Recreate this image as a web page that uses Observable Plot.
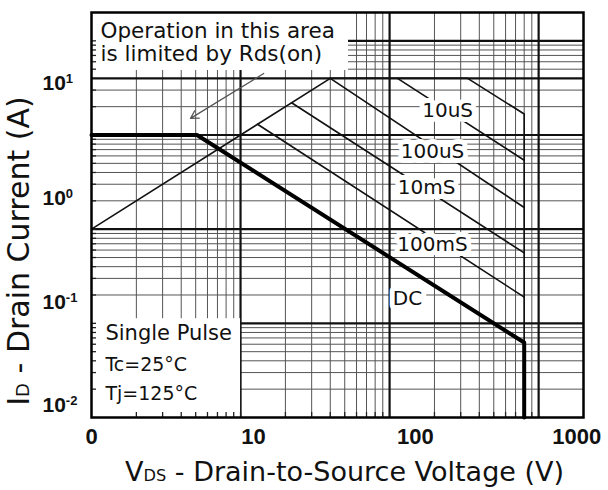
<!DOCTYPE html>
<html><head><meta charset="utf-8">
<script src="https://cdn.jsdelivr.net/npm/d3@7"></script>
<script src="https://cdn.jsdelivr.net/npm/@observablehq/plot@0.6"></script>
<style>html,body{margin:0;padding:0;background:#fff;}</style>
</head><body><div id="chart"></div>
<script>
// ---- grid values (log grid of the original sheet) ----
const xMajor = [10, 100, 1000];
const xMinor = [2,3,4,5,6,7,8,9,20,30,40,50,60,70,80,90,200,300,400,500,600,700,800,900];
const yMajor = [0.1, 1, 10, 100];
const yMinor = [0.02,0.03,0.04,0.05,0.06,0.07,0.08,0.09,0.2,0.3,0.4,0.5,0.6,0.7,0.8,0.9,2,3,4,5,6,7,8,9,20,30,50,60,70,80,90];
const pulseLimitI = [40];

// ---- tick labels (as printed on the sheet) ----
const xTickValues = [1, 12.2, 149, 1799];
const xTickLabels = ["0", "10", "100", "1000"];
const yTickValues = [0.0134, 0.166, 2.12, 35.6];
const yTickLabels = ["10^-2", "10^-1", "10^0", "10^1"];

// ---- SOA curves (V in volts, I in amps) ----
const rdsV = [1, 40];            const rdsI = [1, 40];
const envV = [40, 334, 800, 800]; const envI = [40, 40, 16.7, 0.0625];
const us10V = [113, 800];        const us10I = [40, 5.4];
const us100V = [40, 800];        const us100I = [40, 1.7];
const ms10V = [22, 800];         const ms10I = [22, 0.56];
const ms100V = [13, 800];        const ms100I = [13, 0.19];
const dcV = [1, 5.1, 800, 800];  const dcI = [10, 10, 0.0625, 0.01];

// ---- annotations ----
const curveLabels = ["10uS", "100uS", "10mS", "100mS", "DC"];
const curveLabelV = [245, 194, 177, 194, 132];
const curveLabelI = [18.2, 6.6, 2.77, 0.687, 0.184];
const noteLines = ["Single Pulse", "Tc=25°C", "Tj=125°C"];
const noteV = [1.24, 1.24, 1.24];
const noteI = [0.078, 0.0365, 0.0178];
const opLines = ["Operation in this area", "is limited by Rds(on)"];
const opV = [1.15, 1.15];
const opI = [128, 71.6];
const arrowV = [14.3, 4.62];
const arrowI = [45, 15];
const opBoxV = [1, 53];   const opBoxI = [48.4, 200];
const spBoxV = [1, 10];   const spBoxI = [0.01, 0.112];

const xTitle = ["V", "DS", " - Drain-to-Source Voltage (V)"];
const yTitle = ["I", "D", " - Drain Current (A)"];

// build tables
const curveTable = [
  ["Rds", rdsV, rdsI], ["env", envV, envI], ["10uS", us10V, us10I],
  ["100uS", us100V, us100I], ["10mS", ms10V, ms10I], ["100mS", ms100V, ms100I]
].flatMap(([name, V, I]) => V.map((v, k) => ({name, v, i: I[k]})));
const dcTable = dcV.map((v, k) => ({v, i: dcI[k]}));
const curveLabelTable = curveLabels.map((t, k) => ({t, v: curveLabelV[k], i: curveLabelI[k]}));
const noteTable = noteLines.map((t, k) => ({t, v: noteV[k], i: noteI[k], big: k === 0}));
const opTable = opLines.map((t, k) => ({t, v: opV[k], i: opI[k]}));
const arrowTable = [{v1: arrowV[0], i1: arrowI[0], v2: arrowV[1], i2: arrowI[1]}];
const boxes = [
  {x1: opBoxV[0], x2: opBoxV[1], y1: opBoxI[0], y2: opBoxI[1]},
  {x1: spBoxV[0], x2: spBoxV[1], y1: spBoxI[0], y2: spBoxI[1]}
];
const xTickTable = xTickValues.map((v, k) => ({v, t: xTickLabels[k]}));
const yTickTable = yTickValues.map((v, k) => ({v, t: yTickLabels[k]}));
const xTitleFull = xTitle.join("");
const yTitleFull = yTitle.join("");
const xEdgeTicks = xMinor.concat(xMajor);
const yEdgeTicks = yMinor.concat(yMajor);

const F = "DejaVu Sans, Verdana, sans-serif";
const FT = "Liberation Sans, Arial, sans-serif";

const svg = Plot.plot({
  width: 608, height: 490,
  marginLeft: 91, marginRight: 25, marginTop: 12, marginBottom: 73,
  x: {type: "log", domain: [1, 2000], axis: null},
  y: {type: "log", domain: [0.01, 200], axis: null},
  style: {background: "#fff", color: "#000"},
  marks: [
    Plot.ruleY(yMinor, {stroke: "#555", strokeWidth: 1}),
    Plot.ruleX(xMinor, {stroke: "#555", strokeWidth: 1}),
    Plot.ruleY(yMajor, {stroke: "#111", strokeWidth: 2.2}),
    Plot.ruleX(xMajor, {stroke: "#111", strokeWidth: 2.2}),
    Plot.ruleY(pulseLimitI, {stroke: "#111", strokeWidth: 2.2}),
    Plot.rect(boxes, {x1: "x1", x2: "x2", y1: "y1", y2: "y2", fill: "#fff"}),
    Plot.axisX(xEdgeTicks, {anchor: "bottom", tickSize: -5, tickFormat: () => "", stroke: "#222", strokeWidth: 1.3}),
    Plot.axisY(yEdgeTicks, {anchor: "left", tickSize: -5, tickFormat: () => "", stroke: "#222", strokeWidth: 1.3}),
    Plot.line(curveTable, {x: "v", y: "i", z: "name", stroke: "#111", strokeWidth: 1.6}),
    Plot.line(dcTable, {x: "v", y: "i", stroke: "#000", strokeWidth: 4}),
    Plot.arrow(arrowTable, {x1: "v1", y1: "i1", x2: "v2", y2: "i2",
      stroke: "#555", strokeWidth: 1.3, headLength: 10}),
    Plot.text(curveLabelTable, {x: "v", y: "i", text: "t", fill: "#111", stroke: "#fff", strokeWidth: 10,
      fontFamily: F, fontSize: 20, textAnchor: "middle"}),
    Plot.text(noteTable.filter(d => d.big), {x: "v", y: "i", text: "t", fill: "#111", fontFamily: F, fontSize: 21, textAnchor: "start"}),
    Plot.text(noteTable.filter(d => !d.big), {x: "v", y: "i", text: "t", fill: "#111", fontFamily: F, fontSize: 19, textAnchor: "start"}),
    Plot.text(opTable, {x: "v", y: "i", text: "t", fill: "#111", fontFamily: F, fontSize: 21.5, textAnchor: "start"}),
    Plot.frame({stroke: "#000", strokeWidth: 2.5}),
    Plot.text(xTickTable, {x: "v", text: "t", frameAnchor: "bottom", dy: 19, lineAnchor: "middle",
      textAnchor: "middle", fontSize: 22, fontWeight: "bold", fontFamily: FT, fill: "#111"}),
    Plot.text(yTickTable, {y: "v", text: "t", frameAnchor: "left", dx: -49, lineAnchor: "middle",
      textAnchor: "start", fontSize: 21, fontWeight: "bold", fontFamily: FT, fill: "#111"}),
    Plot.text([xTitleFull], {frameAnchor: "bottom", dx: 7, dy: 55, text: d => d, fontFamily: F, fontSize: 27,
      fill: "#111", textAnchor: "middle", lineAnchor: "middle"}),
    Plot.text([yTitleFull], {frameAnchor: "left", dx: -72, dy: 36, rotate: -90, text: d => d, fontFamily: F,
      fontSize: 30, fill: "#111", textAnchor: "middle", lineAnchor: "middle"})
  ]
});

// superscripts / subscripts as tspans
d3.select(svg).selectAll("text").each(function () {
  const s = d3.select(this);
  const t = this.textContent;
  if (t.startsWith("10^")) {
    const exp = t.slice(3);
    s.text("10");
    s.append("tspan").attr("dy", -7).attr("font-size", 13).text(exp);
  } else if (t === xTitleFull || t === yTitleFull) {
    const parts = t === xTitleFull ? xTitle : yTitle;
    s.text("");
    s.append("tspan").text(parts[0]);
    s.append("tspan").attr("font-size", "0.6em").text(parts[1]);
    s.append("tspan").text(parts[2]);
  }
});

document.getElementById("chart").appendChild(svg);
</script>
</body></html>
